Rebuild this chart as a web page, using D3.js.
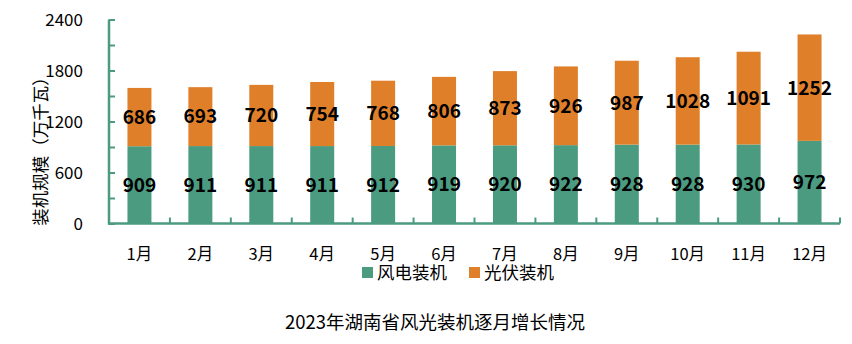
<!DOCTYPE html>
<html><head><meta charset="utf-8">
<script src="https://cdn.jsdelivr.net/npm/d3@7"></script>
<style>body{margin:0;background:#fff;} text{font-family:"Noto Sans CJK SC","Noto Sans",sans-serif;}</style>
</head><body>
<svg id="c" width="852" height="344"></svg>
<script>
const months = ["1月","2月","3月","4月","5月","6月","7月","8月","9月","10月","11月","12月"];
const wind = [909,911,911,911,912,919,920,922,928,928,930,972];
const solar = [686,693,720,754,768,806,873,926,987,1028,1091,1252];
const yTicks = [0,600,1200,1800,2400];
const seriesNames = ["风电装机","光伏装机"];
const colors = ["#4b9b80","#e07f2a"];

const svg = d3.select("#c");
const x = d3.scaleBand().domain(months).range([109, 840]).paddingInner(0).paddingOuter(0);
const y = d3.scaleLinear().domain([0,2400]).range([223.5, 19.5]);
const axisColor = "#4b9b80";
const bw = 24;

const data = months.map((m,i)=>({m, w:wind[i], s:solar[i]}));
const g = svg.append("g");
g.selectAll(".w").data(data).join("rect")
  .attr("x", d=>x(d.m)+x.bandwidth()/2-bw/2).attr("width", bw)
  .attr("y", d=>y(d.w)).attr("height", d=>y(0)-y(d.w)).attr("fill", colors[0]);
g.selectAll(".s").data(data).join("rect")
  .attr("x", d=>x(d.m)+x.bandwidth()/2-bw/2).attr("width", bw)
  .attr("y", d=>y(d.w+d.s)).attr("height", d=>y(d.w)-y(d.w+d.s)).attr("fill", colors[1]);
g.selectAll(".lw").data(data).join("text")
  .attr("x", d=>x(d.m)+x.bandwidth()/2).attr("y", d=>y(d.w/2))
  .attr("dy","0.36em").attr("text-anchor","middle").attr("font-size",19).attr("font-weight","bold")
  .attr("fill","#000").text(d=>d.w);
g.selectAll(".ls").data(data).join("text")
  .attr("x", d=>x(d.m)+x.bandwidth()/2).attr("y", d=>y(d.w+d.s/2))
  .attr("dy","0.36em").attr("text-anchor","middle").attr("font-size",19).attr("font-weight","bold")
  .attr("fill","#000").text(d=>d.s);

// y axis
const ya = svg.append("g").attr("transform","translate(109,0)")
  .call(d3.axisLeft(y).tickValues(d3.range(0,2401,300)).tickSize(6).tickFormat(""));
ya.selectAll("line").attr("stroke",axisColor).attr("stroke-width",2).attr("transform","translate(6,0)");
ya.select(".domain").remove();
svg.append("line").attr("x1",109).attr("x2",109).attr("y1",y(2400)).attr("y2",y(0)+1).attr("stroke",axisColor).attr("stroke-width",2.5);
svg.selectAll(".yt").data(yTicks).join("text").attr("x",83).attr("y",d=>y(d)).attr("dy","0.36em")
  .attr("text-anchor","end").attr("font-size",17).attr("fill","#000").text(d=>d);
svg.append("text").attr("transform","translate(41,147) rotate(-90)").attr("text-anchor","middle")
  .attr("dy","0.36em").attr("font-size",17.5).attr("fill","#000").text("装机规模（万千瓦）");

// x axis
svg.append("line").attr("x1",108).attr("x2",840).attr("y1",y(0)).attr("y2",y(0)).attr("stroke",axisColor).attr("stroke-width",2.5);
svg.selectAll(".xt").data(months).join("line")
  .attr("x1",(d,i)=>x(d)+x.bandwidth()).attr("x2",(d,i)=>x(d)+x.bandwidth())
  .attr("y1",y(0)).attr("y2",y(0)-6).attr("stroke",axisColor).attr("stroke-width",2);
svg.selectAll(".xl").data(months).join("text").attr("x",d=>x(d)+x.bandwidth()/2).attr("y",254)
  .attr("dy","0.36em").attr("text-anchor","middle").attr("font-size",16.5).attr("fill","#000").text(d=>d);

// legend
const lx = [362, 469];
seriesNames.forEach((n,i)=>{
  svg.append("rect").attr("x",lx[i]).attr("y",267).attr("width",11).attr("height",11).attr("fill",colors[i]);
  svg.append("text").attr("x",lx[i]+15).attr("y",273).attr("dy","0.36em").attr("font-size",17.5).attr("fill","#000").text(n);
});
svg.append("text").attr("x",435).attr("y",322).attr("dy","0.36em").attr("text-anchor","middle")
  .attr("font-size",18.5).attr("fill","#000").text("2023年湖南省风光装机逐月增长情况");
</script>
</body></html>
